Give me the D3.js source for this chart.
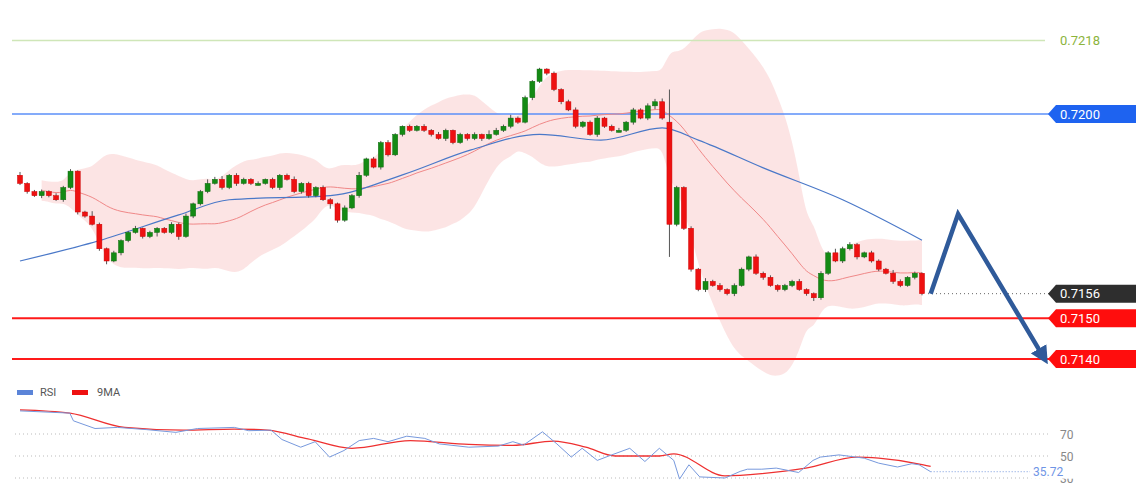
<!DOCTYPE html>
<html><head><meta charset="utf-8">
<script src="https://cdn.jsdelivr.net/npm/d3@7"></script>
<style>body{margin:0;background:#fff}svg{display:block;font-family:Roboto,Arial,sans-serif}</style>
</head><body><svg id="c" width="1140" height="500"></svg>
<script>
const closes=[0.7183,0.7181,0.7180,0.7181,0.7180,0.7179,0.7182,0.7186,
0.7176,
0.7175,0.7173,0.7167,0.7164,
0.7166,0.7169,0.7171,0.7172,0.7170,0.7171,0.7172,0.7171,0.7173,
0.7170,0.7175,0.7178,0.7181,
0.7183,0.7184,0.7182,0.7185,0.7183,0.7184,0.7183,0.7183,0.7184,0.7182,0.7185,0.7184,0.7181,0.7183,
0.7180,0.7182,0.7179,0.7178,0.7174,
0.7177,0.7180,0.7185,0.7189,0.7187,
0.7193,0.7190,0.7195,0.7197,0.7196,0.7197,
0.7196,0.7195,0.7194,0.7196,0.7193,0.7195,0.7194,0.7195,0.7194,0.7195,0.7196,0.7197,
0.7199,0.7198,0.7204,0.7208,0.7211,0.7210,
0.7206,0.7203,0.7201,0.7197,0.7198,0.7195,0.7199,0.7197,0.7196,0.7196,0.7198,0.7201,0.7199,0.7202,0.7203,0.7199,
0.7173,
0.7182,0.7172,0.7162,0.7157,
0.7159,0.7158,0.7157,0.7156,0.7158,0.7162,0.7165,0.7161,0.7160,0.7158,0.7157,0.7158,0.7159,0.7157,0.7156,0.7155,0.7161,
0.7166,0.7164,0.7167,0.7168,0.7165,0.7166,
0.7164,0.7162,0.7161,0.7159,0.7158,0.7160,0.7161,0.7156];
const firstOpen=0.7185, bigOpen=[90,0.7198];
const upW=[8,3,4,5,3,6,4,5, 2, 3,12,4,3, 5,3,4,6,2,4,3,3,5, 4,6,3,4, 10,6,8,3,5,4,3,5,2,4,3,4,7,3, 4,3,5,4,3, 6,4,8,3,5, 4,6,3,2,4,3, 5,3,6,4,2,4,3,5,2,10,6,4, 8,4,5,3,3,2, 4,3,5,6,3,4,5,3,4,6,3,5,4,6,7,8, 80, 4,3,5,3, 8,4,6,3,5,4,3,6,4,5,3,4,4,6,3,3,5, 4,10,5,6,4,3, 5,4,3,8,5,3,4,2];
const dnW=[4,5,3,6,4,3,5,4, 6, 4,3,5,8, 3,6,4,3,5,4,10,3,4, 8,3,5,4, 4,3,5,4,6,3,4,5,3,4,6,3,4,5, 5,4,3,12,6, 4,3,5,4,3, 6,4,3,5,4,3, 4,5,3,6,4,3,5,4,6,3,3,4, 5,4,3,6,4,5, 4,6,3,5,4,3,6,4,3,5,4,6,3,5,8,4, 80, 5,4,6,4, 6,3,5,4,6,3,5,4,6,3,5,4,4,3,5,8,5, 4,3,5,4,6,3, 4,5,3,6,4,3,5,4];
const slowMA=[[0,0.7164],[11,0.7169],[22,0.71753],[29,0.7179],[43,0.7180],[53,0.71851],[62.5,0.71912],[72,0.7195],[80.5,0.71936],[89,0.71966],[94,0.71936],[103,0.71868],[114,0.7179],[125,0.71691]];
const rsi=[[0,91],[6.9,89],[7.4,82],[10.4,75],[13.5,76],[17.5,74],[21.6,71.5],[24.6,75],[29.7,76],[31.7,73],[34.8,73.5],[36.3,65],[38.9,58],[40.9,63],[42.9,49],[44.9,55],[47,64],[49,66],[51,63],[53.6,68],[56.1,66],[58.1,61],[62.2,58],[66.3,59],[68.3,63],[69.8,60],[72.4,72],[74.4,61],[76.4,49],[77.9,57],[80,46],[82,51],[84.5,57],[86.6,45],[88.6,57],[90.6,46],[91.4,29],[92.7,42],[94.2,31],[97.7,30],[99.8,36],[100.8,38],[102.8,38],[104.8,39],[107.9,35],[109.9,46],[110.9,49],[113.5,51],[117,48],[119,43.5],[121.6,40],[123.6,43],[124.6,42],[126.2,35.72]];
const ma9=[[0,92],[6.9,89],[14.5,76],[22.6,73.5],[29.7,74.5],[34.3,73.5],[39.9,65.5],[46,57],[54.1,64],[62.2,60.5],[68.3,59.7],[73.9,63.5],[78.4,58],[82.5,50],[88.6,50],[90.6,52],[97.7,32],[102.8,34],[108.9,39],[116,49],[119,48],[125.2,42],[126.2,40.5]];
const levels=[{v:0.7218,type:"green"},{v:0.7200,type:"blue"},{v:0.7156,type:"last"},{v:0.7150,type:"red"},{v:0.7140,type:"red"}];
const arrowPts=[[126.2,0.7156],[130,0.71755],[141.8,0.71406]];
const rsiTicks=[70,50,30], rsiLast=35.72;

const svg=d3.select("#c");
const x=d3.scaleLinear().domain([0,125]).range([20,922]);
const y=d3.scaleLinear().domain([0.7140,0.7200]).range([359,114]);
const ry=d3.scaleLinear().domain([50,70]).range([456,434]);

const cs=closes.map((c,i)=>{let o=i===0?firstOpen:closes[i-1]; if(i===bigOpen[0]) o=bigOpen[1];
 return {i,o,c,h:Math.max(o,c)+upW[i]*1e-5,l:Math.min(o,c)-dnW[i]*1e-5};});
const bb=cs.map((d,i)=>{const w=closes.slice(Math.max(0,i-19),i+1);const m=d3.mean(w),s=d3.deviation(w)||0;return {i,m,u:m+2*s,lo:m-2*s};}).slice(3);
svg.append("path").datum(bb).attr("fill","rgba(248,190,190,0.42)")
 .attr("d",d3.area().x(d=>x(d.i)).y0(d=>y(d.lo)).y1(d=>y(d.u)).curve(d3.curveBasis));
levels.forEach(L=>{
 const yy=y(L.v);
 if(L.type==="green") svg.append("line").attr("x1",12).attr("x2",1045).attr("y1",yy).attr("y2",yy).attr("stroke","#cfe6b8").attr("stroke-width",1.5);
 if(L.type==="blue") svg.append("line").attr("x1",12).attr("x2",1050).attr("y1",yy).attr("y2",yy).attr("stroke","#5b8ff9").attr("stroke-width",1.5);
 if(L.type==="red") svg.append("line").attr("x1",12).attr("x2",1050).attr("y1",yy).attr("y2",yy).attr("stroke","#ff1a1a").attr("stroke-width",2);
 if(L.type==="last") svg.append("line").attr("x1",928).attr("x2",1050).attr("y1",yy).attr("y2",yy).attr("stroke","#666").attr("stroke-dasharray","1,3");
});
svg.append("path").datum(bb).attr("fill","none").attr("stroke","#f08888").attr("stroke-width",1)
 .attr("d",d3.line().x(d=>x(d.i)).y(d=>y(d.m)).curve(d3.curveBasis));
svg.append("path").datum(slowMA).attr("fill","none").attr("stroke","#4a78c8").attr("stroke-width",1.2)
 .attr("d",d3.line().x(d=>x(d[0])).y(d=>y(d[1])).curve(d3.curveMonotoneX));
const g=svg.append("g");
g.selectAll("line.w").data(cs).join("line").attr("x1",d=>x(d.i)).attr("x2",d=>x(d.i)).attr("y1",d=>y(d.h)).attr("y2",d=>y(d.l)).attr("stroke","#555").attr("stroke-width",1);
g.selectAll("rect").data(cs).join("rect").attr("x",d=>x(d.i)-2.5).attr("width",5)
 .attr("y",d=>y(Math.max(d.o,d.c))).attr("height",d=>Math.max(2,Math.abs(y(d.o)-y(d.c))))
 .attr("fill",d=>d.c>=d.o?"#148a14":"#ee1111").attr("stroke",d=>d.c>=d.o?"#0e6a0e":"#c00").attr("stroke-width",0.5);
const defs=svg.append("defs");
defs.append("marker").attr("id","ah").attr("viewBox","0 0 10 10").attr("refX",5).attr("refY",5).attr("markerWidth",4).attr("markerHeight",4).attr("orient","auto")
 .append("path").attr("d","M0,0L10,5L0,10Z").attr("fill","#2f5a9a");
svg.append("path").datum(arrowPts).attr("fill","none").attr("stroke","#2f5a9a").attr("stroke-width",4.5).attr("stroke-linejoin","miter")
 .attr("marker-end","url(#ah)").attr("d",d3.line().x(d=>x(d[0])).y(d=>y(d[1])));
levels.forEach(L=>{
 const yy=y(L.v);
 if(L.type==="green"){svg.append("text").attr("x",1060).attr("y",yy+4.5).attr("fill","#8cb43c").attr("font-size",13).text(L.v.toFixed(4));return;}
 const col=L.type==="blue"?"#1e63f0":L.type==="last"?"#2e2e2e":"#ff0d0d";
 svg.append("path").attr("d",`M1048,${yy}L1056,${yy-9}L1136,${yy-9}L1136,${yy+9}L1056,${yy+9}Z`).attr("fill",col);
 svg.append("text").attr("x",1060).attr("y",yy+4.5).attr("fill","#fff").attr("font-size",13).text(L.v.toFixed(4));
});
rsiTicks.forEach(t=>{svg.append("line").attr("x1",15).attr("x2",1050).attr("y1",ry(t)).attr("y2",ry(t)).attr("stroke","#bbb").attr("stroke-dasharray","1,3");
 svg.append("text").attr("x",1060).attr("y",ry(t)+4.5).attr("fill","#888").attr("font-size",12).text(t);});
svg.append("line").attr("x1",x(126.2)).attr("x2",1030).attr("y1",ry(rsiLast)).attr("y2",ry(rsiLast)).attr("stroke","#7799dd").attr("stroke-dasharray","1,2");
svg.append("rect").attr("x",1030).attr("y",ry(rsiLast)-8).attr("width",60).attr("height",15).attr("fill","#fff");
svg.append("text").attr("x",1033).attr("y",ry(rsiLast)+4.5).attr("fill","#6f95e6").attr("font-size",12).text(rsiLast.toFixed(2));
svg.append("path").datum(ma9).attr("fill","none").attr("stroke","#ee3030").attr("stroke-width",1.3).attr("d",d3.line().x(d=>x(d[0])).y(d=>ry(d[1])).curve(d3.curveMonotoneX));
svg.append("path").datum(rsi).attr("fill","none").attr("stroke","#7799dd").attr("stroke-width",1).attr("d",d3.line().x(d=>x(d[0])).y(d=>ry(d[1])));
svg.append("rect").attr("x",17).attr("y",390).attr("width",16).attr("height",5).attr("fill","#5b84d8");
svg.append("text").attr("x",40).attr("y",396).attr("fill","#555").attr("font-size",11).text("RSI");
svg.append("rect").attr("x",72).attr("y",390).attr("width",16).attr("height",5).attr("fill","#ee1111");
svg.append("text").attr("x",97).attr("y",396).attr("fill","#555").attr("font-size",11).text("9MA");
</script></body></html>
